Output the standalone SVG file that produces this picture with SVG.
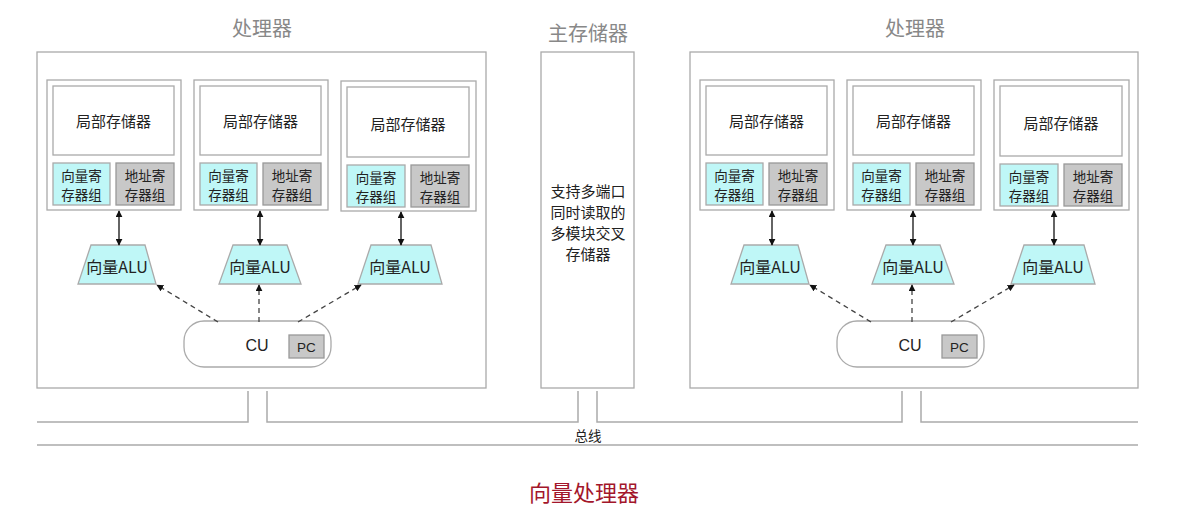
<svg xmlns="http://www.w3.org/2000/svg" width="1180" height="521" viewBox="0 0 1180 521">
<defs>
<marker id="ah" viewBox="0 0 10 10" refX="9" refY="5" markerWidth="7" markerHeight="7" orient="auto-start-reverse" markerUnits="userSpaceOnUse">
<path d="M0,0 L10,5 L0,10 z" fill="#111"/>
</marker>
<style>
text{font-family:"Noto Sans CJK SC","Liberation Sans",sans-serif;fill:#222;text-anchor:middle;dominant-baseline:central}
.lat{font-family:"Liberation Sans","Noto Sans CJK SC",sans-serif}
.frame{fill:#fff;stroke:#aaa;stroke-width:1.3}
.ls{fill:#fff;stroke:#aaa;stroke-width:1.3}
.vr{fill:#bff7f7;stroke:#aaa;stroke-width:1.3}
.ar{fill:#c8c8c8;stroke:#999;stroke-width:1.3}
.alu{fill:#bff7f7;stroke:#aaa;stroke-width:1.3}
.cu{fill:#fff;stroke:#aaa;stroke-width:1.3}
.pc{fill:#c8c8c8;stroke:#999;stroke-width:1.3}
.title{font-size:20px;fill:#888}
.t15{font-size:15px}
.t16{font-size:16px}
.t13{font-size:13.5px}
.bus{fill:none;stroke:#aaa;stroke-width:1.5}
.solid{stroke:#111;stroke-width:1.3;fill:none;marker-start:url(#ah);marker-end:url(#ah)}
.dash{stroke:#444;stroke-width:1.3;fill:none;stroke-dasharray:5 4;marker-end:url(#ah)}
</style>
</defs>

<g id="title-left"><text class="title" x="262" y="27">处理器</text></g>
<g id="title-mem"><text class="title" x="588" y="32">主存储器</text></g>
<g id="title-right"><text class="title" x="915" y="27">处理器</text></g>

<g id="proc-left"><rect class="frame" x="37" y="52" width="449" height="336"/></g>
<g id="proc-right"><rect class="frame" x="690" y="52" width="448" height="336"/></g>

<g id="memory">
<rect class="frame" x="541" y="52" width="93" height="336"/>
<text class="t15" x="588" y="190">支持多端口</text>
<text class="t15" x="588" y="211">同时读取的</text>
<text class="t15" x="588" y="232">多模块交叉</text>
<text class="t15" x="588" y="253">存储器</text>
</g>

<!-- left processor units -->
<g id="unit-l1" transform="translate(47,80)">
<rect class="frame" x="0" y="0" width="134" height="130"/>
<rect class="ls" x="6" y="6" width="121" height="69"/>
<text class="t15" x="66.5" y="40">局部存储器</text>
<rect class="vr" x="6" y="83" width="57" height="42"/>
<text class="t13" x="34.5" y="95">向量寄</text><text class="t13" x="34.5" y="114">存器组</text>
<rect class="ar" x="69" y="83" width="58" height="42"/>
<text class="t13" x="98" y="95">地址寄</text><text class="t13" x="98" y="114">存器组</text>
</g>
<g id="unit-l2" transform="translate(194,80)">
<rect class="frame" x="0" y="0" width="134" height="130"/>
<rect class="ls" x="6" y="6" width="121" height="69"/>
<text class="t15" x="66.5" y="40">局部存储器</text>
<rect class="vr" x="6" y="83" width="57" height="42"/>
<text class="t13" x="34.5" y="95">向量寄</text><text class="t13" x="34.5" y="114">存器组</text>
<rect class="ar" x="69" y="83" width="58" height="42"/>
<text class="t13" x="98" y="95">地址寄</text><text class="t13" x="98" y="114">存器组</text>
</g>
<g id="unit-l3" transform="translate(341,81)">
<rect class="frame" x="0" y="0" width="135" height="130"/>
<rect class="ls" x="6" y="6" width="122" height="70"/>
<text class="t15" x="67" y="42">局部存储器</text>
<rect class="vr" x="6" y="84" width="58" height="42"/>
<text class="t13" x="35" y="96">向量寄</text><text class="t13" x="35" y="115">存器组</text>
<rect class="ar" x="70" y="84" width="58" height="42"/>
<text class="t13" x="99" y="96">地址寄</text><text class="t13" x="99" y="115">存器组</text>
</g>

<g id="alu-l1"><polygon class="alu" points="91,245 145,245 156,284 78,284"/><text class="t16" x="117" y="266">向量ALU</text></g>
<g id="alu-l2"><polygon class="alu" points="233,245 287,245 301,284 219,284"/><text class="t16" x="260" y="266">向量ALU</text></g>
<g id="alu-l3"><polygon class="alu" points="371,245 431,245 442,284 358,284"/><text class="t16" x="400" y="266">向量ALU</text></g>

<g id="cu-left">
<rect class="cu" x="184" y="321" width="147" height="46" rx="20" ry="20"/>
<text class="t16 lat" x="257" y="345">CU</text>
<rect class="pc" x="289" y="335" width="35" height="23"/>
<text class="t13 lat" x="306.5" y="347">PC</text>
</g>

<!-- right processor units -->
<g id="unit-r1" transform="translate(700,80)">
<rect class="frame" x="0" y="0" width="134" height="130"/>
<rect class="ls" x="6" y="6" width="121" height="69"/>
<text class="t15" x="66.5" y="40">局部存储器</text>
<rect class="vr" x="6" y="83" width="57" height="42"/>
<text class="t13" x="34.5" y="95">向量寄</text><text class="t13" x="34.5" y="114">存器组</text>
<rect class="ar" x="69" y="83" width="58" height="42"/>
<text class="t13" x="98" y="95">地址寄</text><text class="t13" x="98" y="114">存器组</text>
</g>
<g id="unit-r2" transform="translate(847,80)">
<rect class="frame" x="0" y="0" width="134" height="130"/>
<rect class="ls" x="6" y="6" width="121" height="69"/>
<text class="t15" x="66.5" y="40">局部存储器</text>
<rect class="vr" x="6" y="83" width="57" height="42"/>
<text class="t13" x="34.5" y="95">向量寄</text><text class="t13" x="34.5" y="114">存器组</text>
<rect class="ar" x="69" y="83" width="58" height="42"/>
<text class="t13" x="98" y="95">地址寄</text><text class="t13" x="98" y="114">存器组</text>
</g>
<g id="unit-r3" transform="translate(994,80)">
<rect class="frame" x="0" y="0" width="135" height="130"/>
<rect class="ls" x="6" y="6" width="122" height="70"/>
<text class="t15" x="67" y="42">局部存储器</text>
<rect class="vr" x="6" y="84" width="58" height="42"/>
<text class="t13" x="35" y="96">向量寄</text><text class="t13" x="35" y="115">存器组</text>
<rect class="ar" x="70" y="84" width="58" height="42"/>
<text class="t13" x="99" y="96">地址寄</text><text class="t13" x="99" y="115">存器组</text>
</g>

<g id="alu-r1"><polygon class="alu" points="744,245 798,245 809,284 731,284"/><text class="t16" x="770" y="266">向量ALU</text></g>
<g id="alu-r2"><polygon class="alu" points="886,245 940,245 954,284 872,284"/><text class="t16" x="913" y="266">向量ALU</text></g>
<g id="alu-r3"><polygon class="alu" points="1024,245 1084,245 1095,284 1011,284"/><text class="t16" x="1053" y="266">向量ALU</text></g>

<g id="cu-right">
<rect class="cu" x="837" y="321" width="147" height="46" rx="20" ry="20"/>
<text class="t16 lat" x="910" y="345">CU</text>
<rect class="pc" x="942" y="335" width="35" height="23"/>
<text class="t13 lat" x="959.5" y="347">PC</text>
</g>

<g id="bus-label"><text class="t13" x="588" y="435">总线</text></g>
<g id="caption"><text x="584" y="491" style="font-size:22px;fill:#a3162b">向量处理器</text></g>

<g id="connectors">
<line class="solid" x1="119" y1="211" x2="119" y2="245"/>
<line class="solid" x1="260" y1="211" x2="260" y2="245"/>
<line class="solid" x1="401" y1="212" x2="401" y2="245"/>
<line class="solid" x1="772" y1="211" x2="772" y2="245"/>
<line class="solid" x1="913" y1="211" x2="913" y2="245"/>
<line class="solid" x1="1054" y1="211" x2="1054" y2="245"/>
<line class="dash" x1="218" y1="322" x2="157" y2="285"/>
<line class="dash" x1="259" y1="322" x2="259" y2="285"/>
<line class="dash" x1="298" y1="322" x2="361" y2="285"/>
<line class="dash" x1="871" y1="322" x2="810" y2="285"/>
<line class="dash" x1="912" y1="322" x2="912" y2="285"/>
<line class="dash" x1="951" y1="322" x2="1014" y2="285"/>
<polyline class="bus" points="37,422 248,422 248,391"/>
<polyline class="bus" points="267,391 267,422 578,422 578,391"/>
<polyline class="bus" points="597,391 597,422 902,422 902,391"/>
<polyline class="bus" points="921,391 921,422 1138,422"/>
<line class="bus" x1="37" y1="445" x2="1138" y2="445"/>
</g>
</svg>
